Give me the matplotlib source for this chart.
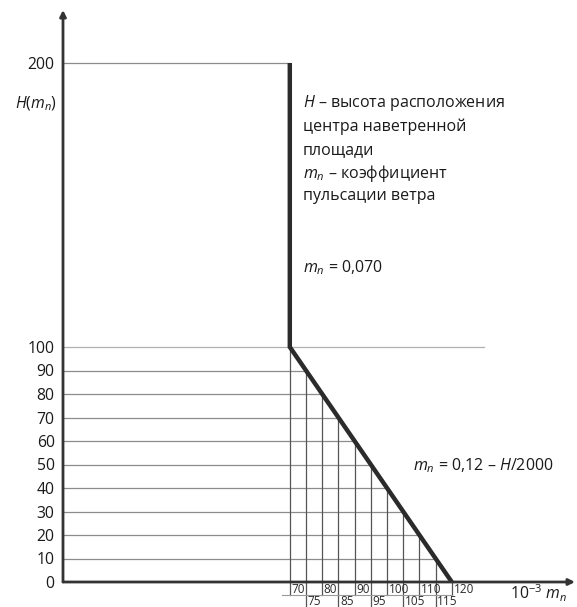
import numpy as np
import matplotlib
matplotlib.use("Agg")
import matplotlib.pyplot as plt

plt.rcParams['font.family'] = ['Open Sans', 'DejaVu Sans']
plt.rcParams['mathtext.fontset'] = 'custom'
plt.rcParams['mathtext.rm'] = 'Open Sans'
plt.rcParams['mathtext.it'] = 'Open Sans:italic'

# ---- data ----
h_ticks = [0, 10, 20, 30, 40, 50, 60, 70, 80, 90, 100, 200]
h_grid = [10, 20, 30, 40, 50, 60, 70, 80, 90]
m_ticks = [70, 75, 80, 85, 90, 95, 100, 105, 110, 115, 120]
profile_m = [70, 70, 120]        # 10^-3 m_n
profile_H = [200, 100, 0]        # H
top_line_end = 70
mid_line_end = 130
legend_lines = [r"$H$ – высота расположения", "центра наветренной", "площади",
                r"$m_n$ – коэффициент", "пульсации ветра"]
const_label = r"$m_n$ = 0,070"
slope_label = r"$m_n$ = 0,12 – $H$/2000"

# ---- scale: 0..100 and 100..200 drawn at different heights ----
K = 284.0 / 235.0
def fwd(y):
    y = np.asarray(y, dtype=float)
    return np.where(y <= 100, y, 100 + (y - 100) * K)
def inv(y):
    y = np.asarray(y, dtype=float)
    return np.where(y <= 100, y, 100 + (y - 100) / K)

W, H = 577, 607
fig = plt.figure(figsize=(W / 100, H / 100), dpi=100)
px_x0, px_y0 = 63, 582      # origin pixel
px_top, px_right = 10, 575
ax = fig.add_axes([px_x0 / W, (H - px_y0) / H, (px_right - px_x0) / W, (px_y0 - px_top) / H])
ax.set_yscale('function', functions=(fwd, inv))
ppu_x = 162.0 / 50.0
ax.set_xlim(0, (px_right - px_x0) / ppu_x)
ytop = 200 + (63 - px_top) / 2.84
ax.set_ylim(0, ytop)
for s in ax.spines.values():
    s.set_visible(False)
ax.set_xticks([])
ax.set_yticks(h_ticks)
ax.set_yticklabels([str(v) for v in h_ticks])
ax.tick_params(axis='y', length=0, pad=6, labelsize=11.3, colors='#1a1a1a')
ax.patch.set_alpha(0)

grid_c = '#8c8c8c'
# horizontal grid
ax.plot([0, top_line_end], [200, 200], color=grid_c, lw=0.9)
ax.plot([0, mid_line_end], [100, 100], color='#b0b0b0', lw=0.9)
seg_m = profile_m[1:]
seg_H = profile_H[1:]
for h in h_grid:
    xe = np.interp(h, seg_H[::-1], seg_m[::-1])
    ax.plot([0, xe], [h, h], color=grid_c, lw=0.9)

# vertical grid + below-axis label table
row1 = -5.6
row2 = -10.8
for i, m in enumerate(m_ticks):
    ye = np.interp(m, seg_m, seg_H)
    low = row1 if i % 2 == 0 else row2
    ax.plot([m, m], [low, ye], color='#555555', lw=0.9, clip_on=False)
    ax.text(m + 0.5, (0 + row1) / 2 - 0.3 if i % 2 == 0 else (row1 + row2) / 2 - 0.2,
            str(m), fontsize=8.5, ha='left', va='center', color='#2a2a2a', clip_on=False)
ax.plot([m_ticks[0] - 2.5, m_ticks[-1]], [row1, row1], color='#9a9a9a', lw=0.8, clip_on=False)

# profile line
ax.plot(profile_m, profile_H, color='#2b2b2b', lw=3.2, solid_capstyle='butt', solid_joinstyle='miter')

# axes with arrows
ax.annotate('', xy=(0, 1), xytext=(0, 0), xycoords='axes fraction',
            arrowprops=dict(arrowstyle='-|>', lw=2, color='#333333', mutation_scale=9, shrinkA=0, shrinkB=0))
ax.annotate('', xy=(1, 0), xytext=(0, 0), xycoords='axes fraction',
            arrowprops=dict(arrowstyle='-|>', lw=2, color='#333333', mutation_scale=9, shrinkA=0, shrinkB=0))

# labels
fig.text(57 / W, 1 - 104 / H, r"$H$($m_n$)", fontsize=11.3, ha='right', va='center', color='#1a1a1a')
fig.text(510 / W, 1 - 593 / H, r"10$^{-3}$ $m_n$", fontsize=11.3, ha='left', va='center', color='#1a1a1a')
ys = [103, 127, 150, 173, 196]
for t, y in zip(legend_lines, ys):
    fig.text(303 / W, 1 - y / H, t, fontsize=11.5, ha='left', va='center', color='#1a1a1a')
fig.text(303 / W, 1 - 268 / H, const_label, fontsize=11.5, ha='left', va='center', color='#1a1a1a')
fig.text(413 / W, 1 - 466 / H, slope_label, fontsize=11.5, ha='left', va='center', color='#1a1a1a')

fig.savefig('out.png', dpi=100)
